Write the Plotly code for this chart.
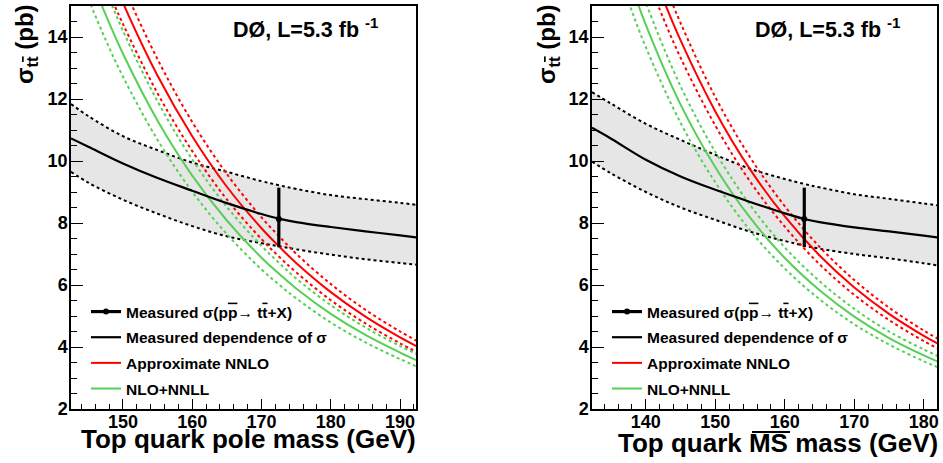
import plotly.graph_objects as go

# ---------------- Left panel: pole mass ----------------
m_pole_meas = [142.5, 145, 150, 155, 160, 165, 170, 172.5, 175, 180, 185, 190, 192.5]
sig_pole_meas = [10.73, 10.46, 9.92, 9.45, 9.04, 8.64, 8.29, 8.14, 8.03, 7.87, 7.73, 7.60, 7.53]
sig_pole_meas_hi = [11.84, 11.45, 10.80, 10.35, 9.95, 9.65, 9.35, 9.22, 9.10, 8.90, 8.77, 8.65, 8.58]
sig_pole_meas_lo = [9.65, 9.30, 8.75, 8.30, 7.90, 7.57, 7.35, 7.25, 7.15, 6.98, 6.83, 6.71, 6.65]

m_pole_nnlo = [147.5, 150, 155, 160, 165, 170, 172.5, 175, 180, 185, 190, 192.5]
sig_pole_nnlo = [16.45, 15.10, 12.75, 10.80, 9.17, 7.83, 7.25, 6.71, 5.77, 4.98, 4.31, 4.01]
sig_pole_nnlo_hi = [17.10, 15.68, 13.28, 11.26, 9.58, 8.18, 7.58, 7.01, 6.03, 5.20, 4.50, 4.19]
sig_pole_nnlo_lo = [15.68, 14.42, 12.18, 10.32, 8.76, 7.48, 6.92, 6.41, 5.51, 4.76, 4.12, 3.83]

m_pole_nnll = [145, 147.5, 150, 155, 160, 165, 170, 172.5, 175, 180, 185, 190, 192.5]
sig_pole_nnll = [16.12, 14.72, 13.46, 11.30, 9.53, 8.08, 6.88, 6.37, 5.89, 5.07, 4.39, 3.82, 3.56]
sig_pole_nnll_hi = [17.01, 15.53, 14.20, 11.92, 10.05, 8.52, 7.26, 6.72, 6.21, 5.35, 4.63, 4.03, 3.76]
sig_pole_nnll_lo = [15.23, 13.91, 12.72, 10.68, 9.01, 7.64, 6.50, 6.02, 5.57, 4.79, 4.15, 3.61, 3.36]

pole_point_m = [172.5]

# ---------------- Right panel: MSbar mass ----------------
m_msb_meas = [132.25, 135, 140, 145, 150, 155, 160, 162.8, 165, 170, 175, 180, 182]
sig_msb_meas = [11.07, 10.72, 10.04, 9.50, 9.07, 8.68, 8.31, 8.13, 8.03, 7.86, 7.73, 7.59, 7.53]
sig_msb_meas_hi = [12.22, 11.85, 11.20, 10.68, 10.20, 9.75, 9.42, 9.26, 9.15, 8.93, 8.78, 8.63, 8.57]
sig_msb_meas_lo = [9.98, 9.60, 9.00, 8.50, 8.10, 7.72, 7.42, 7.27, 7.17, 7.00, 6.86, 6.70, 6.63]

m_msb_nnlo = [140, 142.5, 145, 150, 155, 160, 165, 170, 175, 180, 182]
sig_msb_nnlo = [16.71, 15.22, 13.89, 11.60, 9.73, 8.21, 6.95, 5.92, 5.07, 4.36, 4.11]
sig_msb_nnlo_hi = [17.38, 15.83, 14.45, 12.06, 10.12, 8.54, 7.23, 6.16, 5.27, 4.53, 4.27]
sig_msb_nnlo_lo = [16.04, 14.61, 13.33, 11.14, 9.34, 7.88, 6.67, 5.68, 4.87, 4.19, 3.95]

m_msb_nnll = [135, 137.5, 140, 145, 150, 155, 160, 165, 170, 175, 180, 182]
sig_msb_nnll = [17.67, 15.94, 14.39, 11.82, 9.80, 8.17, 6.87, 5.83, 4.98, 4.29, 3.73, 3.53]
sig_msb_nnll_hi = [18.55, 16.74, 15.11, 12.41, 10.29, 8.58, 7.21, 6.12, 5.23, 4.50, 3.92, 3.71]
sig_msb_nnll_lo = [16.79, 15.14, 13.67, 11.23, 9.31, 7.76, 6.53, 5.54, 4.73, 4.08, 3.54, 3.35]

msb_point_m = [162.8]

# measured cross section
sigma_meas = [8.13]
sigma_err_up = [1.01]
sigma_err_dn = [0.91]

x_ticks_pole = [150, 160, 170, 180, 190]
x_ticks_msb = [140, 150, 160, 170, 180]
y_ticks = [2, 4, 6, 8, 10, 12, 14]

OL = "<span style='text-decoration:overline'>%s</span>"
legend_labels = ["Measured \u03c3(p" + OL % "p" + "\u2192 t" + OL % "t" + "+X)",
                 "Measured dependence of \u03c3",
                 "Approximate NNLO", "NLO+NNLL"]

RED = "#ff0000"
GREEN = "#55d055"
BAND = "#e6e6e6"
FONT = "Liberation Sans"

fig = go.Figure()


def add_panel(xa, ya, leg, m_meas, s_c, s_hi, s_lo, m_a, a_c, a_hi, a_lo,
              m_b, b_c, b_hi, b_lo, m_pt):
    common = dict(xaxis=xa, yaxis=ya, hoverinfo="skip", legend=leg)
    # band fill
    fig.add_trace(go.Scatter(x=m_meas, y=s_hi, mode="lines", line=dict(width=0, shape="spline"),
                             showlegend=False, **common))
    fig.add_trace(go.Scatter(x=m_meas, y=s_lo, mode="lines", line=dict(width=0, shape="spline"),
                             fill="tonexty", fillcolor=BAND, showlegend=False, **common))
    # band edges
    for yy in (s_hi, s_lo):
        fig.add_trace(go.Scatter(x=m_meas, y=yy, mode="lines",
                                 line=dict(color="black", width=2, dash="dot", shape="spline"),
                                 showlegend=False, **common))
    # theory curves
    for mm, c, hi, lo, col, lab, rk in ((m_b, b_c, b_hi, b_lo, GREEN, legend_labels[3], 4),
                                       (m_a, a_c, a_hi, a_lo, RED, legend_labels[2], 3)):
        for yy in (hi, lo):
            fig.add_trace(go.Scatter(x=mm, y=yy, mode="lines",
                                     line=dict(color=col, width=2, dash="dot", shape="spline"),
                                     showlegend=False, **common))
        fig.add_trace(go.Scatter(x=mm, y=c, mode="lines", name=lab, legendrank=rk,
                                 legendgroup=lab,
                                 line=dict(color=col, width=2, shape="spline"), **common))
    # measured dependence
    fig.add_trace(go.Scatter(x=m_meas, y=s_c, mode="lines", name=legend_labels[1], legendrank=2,
                             legendgroup=legend_labels[1],
                             line=dict(color="black", width=2.2, shape="spline"), **common))
    # measured point
    fig.add_trace(go.Scatter(x=m_pt, y=sigma_meas, mode="markers", showlegend=False,
                             marker=dict(color="black", size=6),
                             error_y=dict(type="data", symmetric=False, array=sigma_err_up,
                                          arrayminus=sigma_err_dn, thickness=3.2, width=0,
                                          color="black"), **common))
    # legend entry for measured point
    fig.add_trace(go.Scatter(x=[None], y=[None], mode="lines+markers", name=legend_labels[0],
                             legendrank=1, legendgroup=legend_labels[0],
                             line=dict(color="black", width=3.2), marker=dict(color="black", size=6),
                             **common))


add_panel("x", "y", "legend", m_pole_meas, sig_pole_meas, sig_pole_meas_hi, sig_pole_meas_lo,
          m_pole_nnlo, sig_pole_nnlo, sig_pole_nnlo_hi, sig_pole_nnlo_lo,
          m_pole_nnll, sig_pole_nnll, sig_pole_nnll_hi, sig_pole_nnll_lo, pole_point_m)
add_panel("x2", "y2", "legend2", m_msb_meas, sig_msb_meas, sig_msb_meas_hi, sig_msb_meas_lo,
          m_msb_nnlo, sig_msb_nnlo, sig_msb_nnlo_hi, sig_msb_nnlo_lo,
          m_msb_nnll, sig_msb_nnll, sig_msb_nnll_hi, sig_msb_nnll_lo, msb_point_m)

W, H = 943, 463
ydom = [(H - 409) / H, (H - 6) / H]
xdom1 = [71 / W, 416 / W]
xdom2 = [592 / W, 937 / W]

tickfont = dict(family=FONT, size=18, color="black", weight="bold")


def xaxis(dom, rng, tv, anchor):
    return dict(domain=dom, range=rng, anchor=anchor, tickmode="array", tickvals=tv,
                ticks="inside", ticklen=10, tickwidth=1.2, tickcolor="black",
                showline=True, linecolor="black", linewidth=1.5, mirror=True,
                showgrid=False, zeroline=False, tickfont=tickfont, automargin=False,
                ticklabelstandoff=-4,
                minor=dict(dtick=2, tick0=140, ticks="inside", ticklen=5, tickwidth=1, tickcolor="black"))


def yaxis(anchor):
    return dict(domain=ydom, range=[2, 15], anchor=anchor, tickmode="array", tickvals=y_ticks,
                ticks="inside", ticklen=12, tickwidth=1.2, tickcolor="black",
                showline=True, linecolor="black", linewidth=1.5, mirror=True,
                showgrid=False, zeroline=False, tickfont=tickfont, automargin=False,
                ticklabelstandoff=-2,
                minor=dict(dtick=0.5, tick0=2, ticks="inside", ticklen=6, tickwidth=1, tickcolor="black"))


legfont = dict(family=FONT, size=15.5, color="black", weight="bold")
fig.update_layout(
    width=W, height=H, margin=dict(l=0, r=0, t=0, b=0, autoexpand=False),
    paper_bgcolor="white", plot_bgcolor="white",
    xaxis=xaxis(xdom1, [142.5, 192.3], x_ticks_pole, "y"),
    yaxis=yaxis("x"),
    xaxis2=xaxis(xdom2, [132.25, 181.9], x_ticks_msb, "y2"),
    yaxis2=yaxis("x2"),
    legend=dict(x=86 / W, y=(H - 295) / H, xanchor="left", yanchor="top", font=legfont,
                bgcolor="rgba(0,0,0,0)", tracegroupgap=2.5, itemwidth=30),
    legend2=dict(x=607 / W, y=(H - 295) / H, xanchor="left", yanchor="top", font=legfont,
                 bgcolor="rgba(0,0,0,0)", tracegroupgap=2.5, itemwidth=30),
    showlegend=True,
)

ann_font = dict(family=FONT, size=21.5, color="black", weight="bold")
title_font = dict(family=FONT, size=26, color="black", weight="bold")
ytitle_font = dict(family=FONT, size=24, color="black", weight="bold")
annotations = [
    dict(text="D\u00d8, L=5.3 fb <sup>-1</sup>", x=305 / W, y=(H - 28) / H, xref="paper", yref="paper",
         showarrow=False, font=ann_font, xanchor="center", yanchor="middle"),
    dict(text="D\u00d8, L=5.3 fb <sup>-1</sup>", x=827 / W, y=(H - 28) / H, xref="paper", yref="paper",
         showarrow=False, font=ann_font, xanchor="center", yanchor="middle"),
    dict(text="Top quark pole mass (GeV)", x=418 / W, y=(H - 439) / H, xref="paper", yref="paper",
         showarrow=False, font=title_font, xanchor="right", yanchor="middle"),
    dict(text="Top quark MS mass (GeV)", x=940 / W,
         y=(H - 443) / H, xref="paper", yref="paper",
         showarrow=False, font=title_font, xanchor="right", yanchor="middle"),
    dict(text="\u03c3<sub>t" + OL % "t" + "</sub> (pb)", x=26 / W, y=(H - 2) / H, xref="paper", yref="paper",
         showarrow=False, font=ytitle_font, textangle=-90, xanchor="center", yanchor="top"),
    dict(text="\u03c3<sub>t" + OL % "t" + "</sub> (pb)", x=548 / W, y=(H - 2) / H, xref="paper", yref="paper",
         showarrow=False, font=ytitle_font, textangle=-90, xanchor="center", yanchor="top"),
]
fig.update_layout(annotations=annotations)

# overline bar above "MS" in the right-hand axis title
fig.add_shape(type="line", xref="paper", yref="paper", x0=752 / W, x1=790 / W,
              y0=(H - 432) / H, y1=(H - 432) / H, line=dict(color="black", width=2.2))

fig.write_html("out.html")
